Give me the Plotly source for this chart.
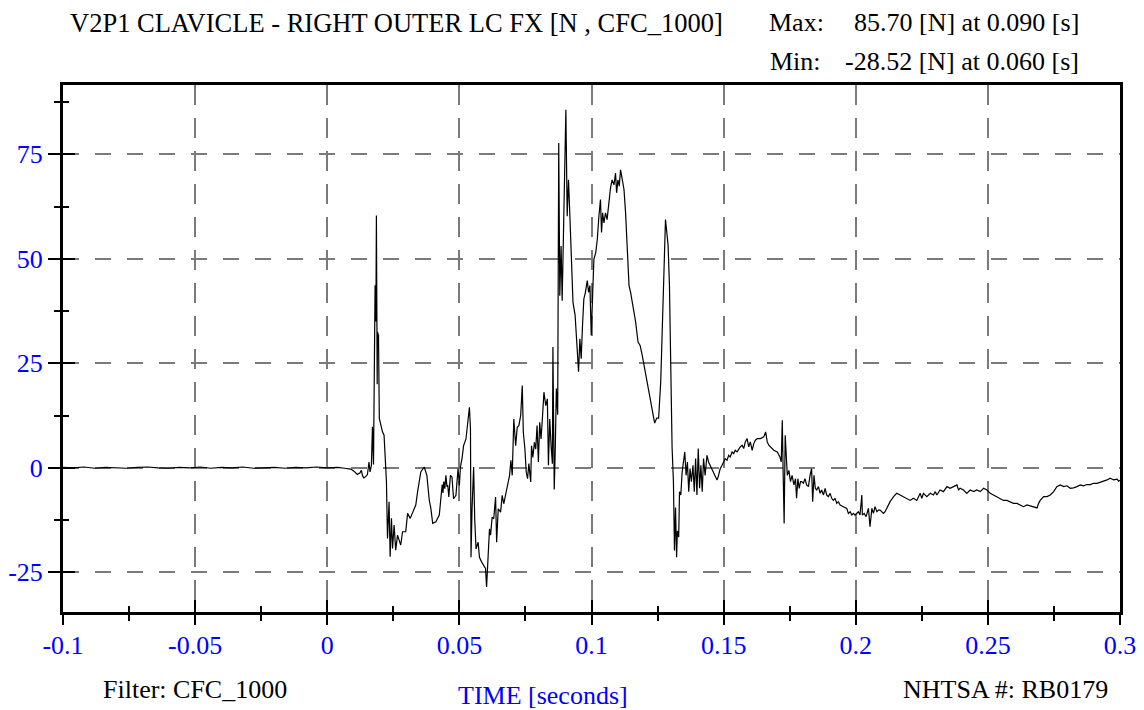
import plotly.graph_objects as go

# ---------------- data ----------------
time_pre = [-0.100, -0.096, -0.092, -0.088, -0.084, -0.080, -0.076, -0.072, -0.068, -0.064,
            -0.060, -0.056, -0.052, -0.048, -0.044, -0.040, -0.036, -0.032, -0.028, -0.024,
            -0.020, -0.016, -0.012, -0.008, -0.004, 0.000, 0.004, 0.0065]
force_pre = [0.1, 0.0, 0.2, -0.1, 0.1, 0.0, -0.1, 0.1, 0.2, 0.0,
             -0.1, 0.1, 0.0, 0.2, -0.1, 0.1, 0.0, 0.2, -0.1, 0.0,
             0.1, -0.1, 0.1, 0.0, 0.2, 0.0, 0.1, -0.1]

time_event = [0.0089, 0.0101, 0.0114, 0.0124, 0.0129, 0.0134, 0.0139, 0.0147, 0.0152, 0.0158,
              0.0162, 0.0167, 0.0171, 0.0175, 0.0181, 0.0184, 0.0186, 0.0189, 0.0190, 0.0194,
              0.0197, 0.0203, 0.0209, 0.0215, 0.0218, 0.0224, 0.0228, 0.0234, 0.0238, 0.0243,
              0.0247, 0.0253, 0.0259, 0.0266, 0.0278, 0.0285, 0.0297, 0.0304, 0.0314, 0.0323,
              0.0335, 0.0342, 0.0354, 0.0367, 0.0377, 0.0386, 0.0392, 0.0399, 0.0411, 0.0424,
              0.0430, 0.0435, 0.0438, 0.0441, 0.0445, 0.0449, 0.0453, 0.0456, 0.0460, 0.0466]
force_event = [-0.3, -0.8, -1.6, -1.2, -0.6, -2.0, -2.4, -2.0, -1.6, 1.4,
               -1.0, 0.5, 9.8, 0.8, 43.7, 35.0, 60.4, 20.0, 32.5, 31.7,
               11.8, 10.2, 8.6, 7.8, 3.8, -3.3, -16.9, -8.1, -21.3, -12.1,
               -19.3, -13.7, -19.7, -16.1, -18.5, -15.3, -15.3, -10.9, -12.1, -10.5,
               -8.9, -5.7, -1.0, 0.2, -1.8, -7.7, -9.7, -13.3, -12.9, -11.3,
               -7.3, -4.0, -6.0, -3.3, -5.0, -1.8, -4.5, -4.1, -7.0, -1.8]

time_mid = [0.0472, 0.0478, 0.0487, 0.0495, 0.0500, 0.0504, 0.0510, 0.0516, 0.0525, 0.0533,
            0.0538, 0.0542, 0.0544, 0.0548, 0.0554, 0.0558, 0.0563, 0.0571, 0.0576, 0.0584,
            0.0592, 0.0599, 0.0603, 0.0609, 0.0614, 0.0618, 0.0624, 0.0630, 0.0637, 0.0641,
            0.0647, 0.0656, 0.0662, 0.0668, 0.0681, 0.0690, 0.0695, 0.0700, 0.0706, 0.0713,
            0.0719, 0.0725, 0.0732, 0.0738, 0.0742, 0.0748, 0.0753, 0.0758, 0.0763, 0.0770,
            0.0773, 0.0778, 0.0784, 0.0789, 0.0794, 0.0799, 0.0804, 0.0809, 0.0814, 0.0820,
            0.0827, 0.0833, 0.0837, 0.0842, 0.0847, 0.0852]
force_mid = [-2.2, -7.4, -6.6, -0.2, -4.2, 0.2, 2.2, 5.3, 6.9, 12.1,
             14.5, 9.3, -21.4, -9.8, 0.2, -12.2, -19.4, -17.8, -21.4, -22.5,
             -23.3, -24.1, -28.5, -19.4, -14.6, -16.1, -11.8, -12.2, -7.0, -17.8,
             -9.8, -10.6, -6.6, -8.6, -5.0, -1.8, 1.8, -1.8, 11.7, 5.3,
             9.7, 10.1, 12.5, 19.7, 8.5, 4.5, -1.0, -2.6, 1.0, -3.4,
             5.3, 2.5, 6.1, 4.5, 10.1, 1.4, 10.9, 6.9, 11.7, 18.1,
             14.9, 16.5, 0.6, 11.7, 5.3, 1.0]

time_peak = [0.0854, 0.0859, 0.0863, 0.0867, 0.0872, 0.0876, 0.0880, 0.0885, 0.0889, 0.0892,
             0.0897, 0.0903, 0.0908, 0.0913, 0.0918, 0.0923, 0.0930, 0.0938, 0.0946, 0.0951,
             0.0956, 0.0961, 0.0966, 0.0971, 0.0977, 0.0984, 0.0989, 0.0994, 0.0999, 0.1004,
             0.1009, 0.1016, 0.1022, 0.1028, 0.1034, 0.1038, 0.1042, 0.1047, 0.1053, 0.1059,
             0.1066, 0.1072, 0.1078, 0.1085, 0.1091, 0.1095, 0.1100, 0.1105, 0.1110, 0.1115,
             0.1123, 0.1129, 0.1135, 0.1142, 0.1148, 0.1154, 0.1161, 0.1167, 0.1176, 0.1184,
             0.1192, 0.1201, 0.1211, 0.1222, 0.1230, 0.1239, 0.1247, 0.1254, 0.1262, 0.1270,
             0.1275, 0.1280, 0.1285, 0.1290, 0.1295, 0.1300, 0.1305, 0.1310, 0.1314, 0.1318,
             0.1322, 0.1325, 0.1330]
force_peak = [28.9, -5.2, 4.8, 19.0, 12.7, 77.7, 41.2, 53.1, 40.0, 50.7,
              61.8, 85.7, 60.2, 68.9, 60.6, 49.9, 39.6, 36.5, 29.3, 23.0,
              30.9, 26.1, 34.1, 40.4, 42.0, 44.8, 42.0, 43.6, 31.7, 42.8,
              49.9, 51.5, 54.7, 60.2, 64.2, 56.3, 61.0, 58.6, 61.0, 59.4,
              64.2, 67.0, 68.9, 67.7, 70.5, 65.8, 68.9, 67.4, 71.3, 69.7,
              66.6, 61.0, 52.3, 43.6, 42.0, 39.6, 36.5, 34.9, 30.1, 29.3,
              26.9, 23.8, 19.8, 16.6, 13.5, 10.7, 11.9, 11.9, 20.6, 38.8,
              53.9, 59.4, 56.3, 53.1, 43.6, 20.6, 4.8, -3.2, -19.8, -9.5,
              -21.4, -15.1, -16.6]

time_rebound = [0.1333, 0.1338, 0.1343, 0.1348, 0.1353, 0.1358, 0.1363, 0.1368, 0.1373, 0.1378,
                0.1384, 0.1389, 0.1394, 0.1399, 0.1404, 0.1409, 0.1414, 0.1419, 0.1424, 0.1430,
                0.1437, 0.1443, 0.1449, 0.1456, 0.1462, 0.1468, 0.1475, 0.1481, 0.1487, 0.1494,
                0.1500, 0.1506, 0.1513, 0.1519, 0.1525, 0.1532, 0.1538, 0.1544, 0.1551, 0.1557,
                0.1563, 0.1570, 0.1576, 0.1582, 0.1589, 0.1595, 0.1601, 0.1608, 0.1614, 0.1620,
                0.1627, 0.1639, 0.1652, 0.1659, 0.1665, 0.1671, 0.1677, 0.1690, 0.1703, 0.1713,
                0.1718, 0.1722, 0.1725, 0.1729, 0.1733, 0.1737, 0.1741, 0.1747, 0.1753, 0.1759,
                0.1766, 0.1772, 0.1776, 0.1781, 0.1786, 0.1791]
force_rebound = [-5.7, -6.5, -1.0, 2.2, 3.8, -1.8, 1.4, -5.7, -0.2, -3.3,
                 0.6, -5.7, 2.2, -6.5, 4.6, -4.9, 0.6, -5.7, 2.2, -1.8,
                 3.0, 1.4, 0.6, -0.6, -1.0, -2.2, -2.9, -1.8, -0.2, 0.6,
                 1.4, 2.2, 1.8, 3.0, 2.6, 3.8, 3.4, 4.2, 3.8, 4.6,
                 5.0, 5.4, 4.6, 6.2, 7.0, 5.0, 6.2, 4.2, 5.8, 6.6,
                 7.0, 7.0, 7.4, 8.6, 6.2, 5.4, 5.0, 4.2, 3.8, 2.6,
                 1.4, 11.4, -0.2, -13.3, 7.8, 0.6, -1.8, -0.6, -3.3, -1.8,
                 -4.1, -2.6, -7.3, -2.6, -4.9, -3.3]

time_tail = [0.1795, 0.1802, 0.1808, 0.1814, 0.1821, 0.1827, 0.1833, 0.1837, 0.1842, 0.1847,
             0.1852, 0.1859, 0.1865, 0.1871, 0.1878, 0.1884, 0.1890, 0.1896, 0.1903, 0.1909,
             0.1915, 0.1922, 0.1928, 0.1934, 0.1941, 0.1953, 0.1966, 0.1972, 0.1979, 0.1985,
             0.1991, 0.1997, 0.2004, 0.2010, 0.2016, 0.2023, 0.2025, 0.2032, 0.2039, 0.2048,
             0.2054, 0.2061, 0.2067, 0.2073, 0.2080, 0.2086, 0.2092, 0.2105, 0.2111, 0.2117,
             0.2130, 0.2143, 0.2155, 0.2168, 0.2181, 0.2193, 0.2206, 0.2218, 0.2231, 0.2244,
             0.2250, 0.2256, 0.2269, 0.2282, 0.2294, 0.2301, 0.2307, 0.2319, 0.2332, 0.2345,
             0.2357, 0.2370, 0.2383, 0.2389, 0.2395, 0.2408, 0.2420, 0.2433, 0.2446, 0.2458,
             0.2471, 0.2484, 0.2496, 0.2509, 0.2521, 0.2534, 0.2547, 0.2559, 0.2572, 0.2585,
             0.2597, 0.2610, 0.2622, 0.2635, 0.2648, 0.2660, 0.2673, 0.2686, 0.2692, 0.2698,
             0.2711, 0.2724, 0.2736, 0.2749, 0.2761, 0.2774, 0.2787, 0.2799, 0.2812, 0.2824,
             0.2837, 0.2850, 0.2862, 0.2875, 0.2888, 0.2900, 0.2913, 0.2925, 0.2938, 0.2951,
             0.2963, 0.2976, 0.2989, 0.2995, 0.3000]
force_tail = [-3.3, -3.7, -2.6, -4.1, -4.5, -1.8, -0.2, -8.1, -1.8, -4.9,
              -5.3, -4.5, -6.1, -5.3, -6.5, -4.9, -6.5, -6.9, -6.1, -7.3,
              -7.8, -7.3, -8.5, -8.1, -8.9, -9.3, -9.7, -10.9, -10.5, -11.3,
              -10.9, -11.3, -10.9, -10.5, -11.3, -6.5, -11.3, -10.9, -11.7, -9.7,
              -14.1, -9.7, -10.9, -9.3, -10.5, -10.1, -10.1, -10.9, -10.5, -9.7,
              -8.1, -6.9, -6.1, -6.5, -6.9, -7.3, -7.8, -7.3, -7.8, -6.1,
              -7.3, -6.1, -6.9, -6.1, -6.5, -5.7, -6.5, -5.3, -5.7, -4.5,
              -4.9, -4.5, -4.1, -5.3, -4.9, -5.3, -6.1, -5.3, -5.7, -5.3,
              -5.7, -4.9, -5.3, -6.1, -6.5, -6.9, -7.3, -7.8, -7.8, -8.1,
              -8.5, -8.5, -8.9, -9.3, -8.9, -9.1, -9.3, -9.6, -8.5, -7.8,
              -6.9, -6.9, -6.5, -5.7, -4.5, -4.1, -4.5, -4.3, -4.9, -4.8,
              -4.5, -4.1, -4.3, -4.0, -4.0, -3.7, -3.7, -3.5, -3.3, -2.9,
              -2.5, -2.9, -2.7, -3.2, -3.0]

x_ticks = [-0.1, -0.05, 0, 0.05, 0.1, 0.15, 0.2, 0.25, 0.3]
x_labels = ["-0.1", "-0.05", "0", "0.05", "0.1", "0.15", "0.2", "0.25", "0.3"]
x_minor = [-0.075, -0.025, 0.025, 0.075, 0.125, 0.175, 0.225, 0.275]
y_ticks = [-25, 0, 25, 50, 75]
y_labels = ["-25", "0", "25", "50", "75"]
y_minor = [-12.5, 12.5, 37.5, 62.5, 87.5]
x_range = [-0.1, 0.3]
y_range = [-34.5, 91.6]

title_text = "V2P1 CLAVICLE - RIGHT OUTER LC FX [N , CFC_1000]"
max_label, max_text = "Max:", "85.70 [N] at 0.090 [s]"
min_label, min_text = "Min:", "-28.52 [N] at 0.060 [s]"
filter_text = "Filter: CFC_1000"
xaxis_title = "TIME [seconds]"
nhtsa_text = "NHTSA #: RB0179"

# ---------------- figure ----------------
time_s = time_pre + time_event + time_mid + time_peak + time_rebound + time_tail
force_n = force_pre + force_event + force_mid + force_peak + force_rebound + force_tail

FONT = "Liberation Serif, Times New Roman, serif"
BLUE = "#0000ff"
FS = 26

fig = go.Figure()
fig.add_trace(go.Scatter(x=time_s, y=force_n, mode="lines",
                         line=dict(color="black", width=1.2),
                         showlegend=False, hoverinfo="skip"))
# invisible copies on the overlay axes so that their tick marks are drawn
for xa, ya in (("x2", "y2"), ("x3", "y3")):
    fig.add_trace(go.Scatter(x=time_s, y=force_n, xaxis=xa, yaxis=ya, mode="lines",
                             opacity=0, line=dict(width=0.1),
                             showlegend=False, hoverinfo="skip"))

grid = dict(showgrid=True, gridcolor="#7a7a7a", gridwidth=1.5, zeroline=False)


def tick_axis(rng, vals, minor_vals, direction, length, overlay, anchor, side):
    return dict(range=rng, overlaying=overlay, anchor=anchor, side=side, automargin=False,
                tickmode="array", tickvals=vals, ticks=direction, ticklen=length,
                tickwidth=2, tickcolor="black", showticklabels=False, showgrid=False,
                showline=False, zeroline=False,
                minor=dict(tickvals=minor_vals, ticks=direction, ticklen=6, tickwidth=2,
                           tickcolor="black", showgrid=False))


# the page body adds an 8px offset; the figure is shrunk accordingly
fig.update_layout(
    width=1136, height=702,
    paper_bgcolor="white", plot_bgcolor="white",
    margin=dict(l=55, r=24, t=77, b=98),
    font=dict(family=FONT, color="black", size=FS),
    xaxis=dict(range=x_range, tickmode="array", tickvals=x_ticks, ticktext=x_labels,
               automargin=False,
               ticks="outside", ticklen=8, tickwidth=2, tickcolor="black",
               tickfont=dict(family=FONT, size=FS, color=BLUE),
               showline=True, linewidth=3, linecolor="black", mirror=True,
               griddash="20px,13px",
               minor=dict(tickvals=x_minor, ticks="outside", ticklen=6, tickwidth=2,
                          tickcolor="black", showgrid=False),
               **grid),
    xaxis2=tick_axis(x_range, x_ticks, x_minor, "inside", 12, "x", "y", "bottom"),
    xaxis3=tick_axis(x_range, x_ticks, x_minor, "outside", 12, "x", "y", "bottom"),
    yaxis=dict(range=y_range, tickmode="array", tickvals=y_ticks, ticktext=y_labels,
               automargin=False,
               ticks="outside", ticklen=12, tickwidth=2, tickcolor="black",
               tickfont=dict(family=FONT, size=FS, color=BLUE),
               showline=True, linewidth=3, linecolor="black", mirror=True,
               griddash="16px,16px",
               minor=dict(tickvals=y_minor, ticks="outside", ticklen=6, tickwidth=2,
                          tickcolor="black", showgrid=False),
               **grid),
    yaxis2=tick_axis(y_range, y_ticks, y_minor, "inside", 12, "y", "x", "left"),
    yaxis3=tick_axis(y_range, y_ticks, y_minor, "outside", 12, "y", "x", "left"),
)

# screen pixel (of the 1144x710 window) -> paper coordinates
def px_x(px):
    return (px - 63) / 1057.0

def px_y(py):
    return (612 - py) / 527.0

ann = [
    dict(text=title_text, x=px_x(68), y=px_y(23), xanchor="left", yanchor="middle",
         font=dict(family=FONT, size=26.5, color="black")),
    dict(text=max_label, x=px_x(767), y=px_y(23), xanchor="left", yanchor="middle"),
    dict(text=max_text, x=px_x(1081), y=px_y(23), xanchor="right", yanchor="middle"),
    dict(text=min_label, x=px_x(768), y=px_y(62), xanchor="left", yanchor="middle"),
    dict(text=min_text, x=px_x(1081), y=px_y(62), xanchor="right", yanchor="middle"),
    dict(text=filter_text, x=px_x(101), y=px_y(689), xanchor="left", yanchor="middle"),
    dict(text=xaxis_title, x=px_x(543), y=px_y(695), xanchor="center", yanchor="middle",
         font=dict(family=FONT, size=FS, color=BLUE)),
    dict(text=nhtsa_text, x=px_x(1110), y=px_y(689), xanchor="right", yanchor="middle"),
]
for a in ann:
    a.setdefault("font", dict(family=FONT, size=FS, color="black"))
    fig.add_annotation(xref="paper", yref="paper", showarrow=False, **a)

fig.write_html("out.html")
